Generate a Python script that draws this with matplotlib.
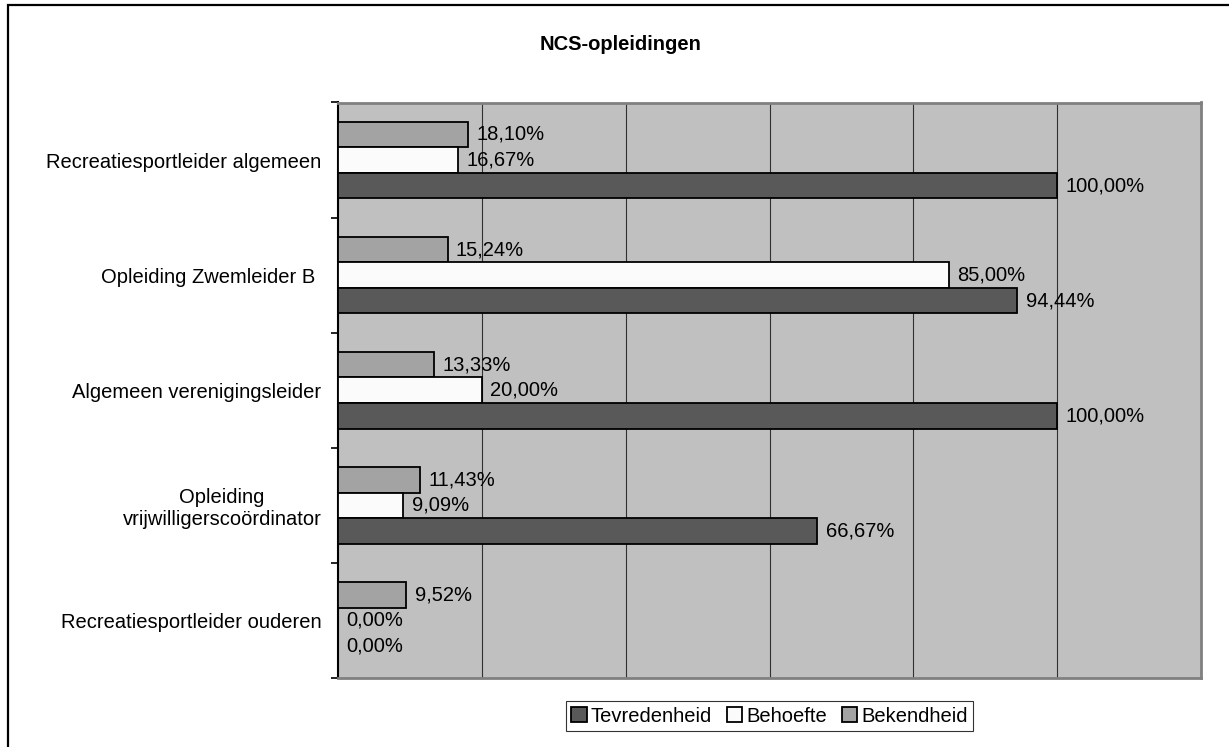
import matplotlib
matplotlib.use("Agg")
import matplotlib.pyplot as plt
from matplotlib.patches import Rectangle, Patch
from matplotlib.ticker import FixedLocator, NullFormatter
import numpy as np

plt.rcParams['font.family'] = ['Liberation Sans', 'DejaVu Sans']

title = "NCS-opleidingen"
categories = [
    "Recreatiesportleider algemeen",
    "Opleiding Zwemleider B ",
    "Algemeen verenigingsleider",
    "Opleiding\nvrijwilligerscoördinator",
    "Recreatiesportleider ouderen",
]
series_names = ["Tevredenheid", "Behoefte", "Bekendheid"]
tevredenheid = [100.00, 94.44, 100.00, 66.67, 0.00]
behoefte = [16.67, 85.00, 20.00, 9.09, 0.00]
bekendheid = [18.10, 15.24, 13.33, 11.43, 9.52]

colors = {"Tevredenheid": "#595959", "Behoefte": "#FBFBFB", "Bekendheid": "#A3A3A3"}
FS = 14.5

W, H = 1229, 747
fig = plt.figure(figsize=(W / 100, H / 100), dpi=100)
fig.patch.set_facecolor("white")

# chart frame
fig.add_artist(Rectangle((8 / W, -0.02), 1.05, 1 - 5 / H + 0.02, transform=fig.transFigure,
                         fill=False, edgecolor="black", linewidth=1.6))

ax = fig.add_axes([338 / W, 1 - 678 / H, (1201 - 338) / W, (678 - 102.5) / H])
ax.set_facecolor("#C0C0C0")

y = np.arange(len(categories))
bh = 0.222
series = [("Bekendheid", bekendheid, -bh), ("Behoefte", behoefte, 0.0), ("Tevredenheid", tevredenheid, bh)]
for name, vals, off in series:
    bars = ax.barh(y + off, vals, height=bh, color=colors[name], edgecolor="black",
                   linewidth=1.3, zorder=3, label=name)
    for rect, v in zip(bars, vals):
        ax.annotate(f"{v:.2f}%".replace(".", ","),
                    xy=(rect.get_width(), rect.get_y() + rect.get_height() / 2),
                    xytext=(6, 0), textcoords="offset points",
                    ha="left", va="center", fontsize=FS, color="black", zorder=4)

ax.set_xlim(0, 120)
ax.set_ylim(len(categories) - 0.5, -0.5)
ax.set_xticks([20, 40, 60, 80, 100])
ax.xaxis.grid(True, color="#303030", linewidth=0.8, zorder=1)
ax.tick_params(axis="x", length=0, labelbottom=False)

ax.set_yticks(y)
ax.set_yticklabels(categories, fontsize=FS, multialignment="center")
ax.tick_params(axis="y", which="major", length=0, pad=12)
ax.yaxis.set_minor_locator(FixedLocator(np.arange(-0.5, len(categories), 1.0)))
ax.yaxis.set_minor_formatter(NullFormatter())
ax.tick_params(axis="y", which="minor", length=5, width=1.2, color="black", direction="out")

ax.spines["left"].set_color("black")
ax.spines["left"].set_linewidth(1.5)
for s in ("top", "right", "bottom"):
    ax.spines[s].set_color("#808080")
    ax.spines[s].set_linewidth(2.0)

fig.text(621 / W, 1 - 45 / H, title, ha="center", va="center", fontsize=14.5, fontweight="bold")

handles = [Patch(facecolor=colors[n], edgecolor="black", linewidth=1.3) for n in series_names]
leg = fig.legend(handles, series_names, loc="center", bbox_to_anchor=(769.5 / W, 1 - 716 / H),
                 ncol=3, fontsize=FS, frameon=True, fancybox=False, handlelength=0.75,
                 handleheight=0.75, handletextpad=0.2, columnspacing=0.75, borderpad=0.25,
                 borderaxespad=0)
leg.get_frame().set_edgecolor("black")
leg.get_frame().set_linewidth(0.8)

fig.savefig("out.png", dpi=100, facecolor="white")
